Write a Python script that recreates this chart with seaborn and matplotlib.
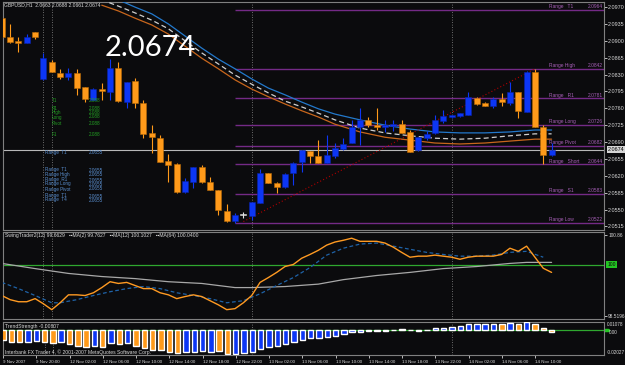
"""
Gráfico H1 de GBPUSD estilo MetaTrader: velas, medias, niveles "Range",
SwingTrader y TrendStrength.
"""
import matplotlib
matplotlib.use("Agg")
import matplotlib.pyplot as plt
import seaborn as sns
import numpy as np

# ---- velas (índice de barra 0..66) ----
opens = [2.0947, 2.0908, 2.0900, 2.0896, 2.0918, 2.0821, 2.0856, 2.0833, 2.0825, 2.0833,
         2.0804, 2.0777, 2.0800, 2.0794, 2.0844, 2.0773, 2.0817, 2.0771, 2.0709, 2.0698,
         2.0651, 2.0644, 2.0586, 2.0607, 2.0638, 2.0607, 2.0591, 2.0547, 2.0526, 2.0539,
         2.0537, 2.0563, 2.0626, 2.0605, 2.0597, 2.0626, 2.0648, 2.0671, 2.0661, 2.0646,
         2.0661, 2.0676, 2.0688, 2.0721, 2.0736, 2.0725, 2.0721, 2.0723, 2.0727, 2.0711,
         2.0674, 2.0698, 2.0709, 2.0734, 2.0742, 2.0744, 2.0746, 2.0781, 2.0771, 2.0765,
         2.0779, 2.0771, 2.0794, 2.0752, 2.0835, 2.0721, 2.0663]
highs = [2.0952, 2.0935, 2.0908, 2.0914, 2.0918, 2.0875, 2.0860, 2.0842, 2.0844, 2.0842,
         2.0804, 2.0802, 2.0813, 2.0862, 2.0856, 2.0815, 2.0823, 2.0777, 2.0725, 2.0705,
         2.0665, 2.0646, 2.0615, 2.0638, 2.0642, 2.0617, 2.0591, 2.0561, 2.0543, 2.0545,
         2.0566, 2.0634, 2.0626, 2.0607, 2.0626, 2.0648, 2.0674, 2.0671, 2.0694, 2.0705,
         2.0688, 2.0698, 2.0736, 2.0761, 2.0742, 2.0761, 2.0736, 2.0736, 2.0736, 2.0715,
         2.0700, 2.0713, 2.0746, 2.0757, 2.0746, 2.0750, 2.0794, 2.0784, 2.0773, 2.0784,
         2.0792, 2.0815, 2.0794, 2.0837, 2.0842, 2.0725, 2.0688]
lows = [2.0906, 2.0895, 2.0877, 2.0895, 2.0904, 2.0819, 2.0835, 2.0821, 2.0819, 2.0788,
        2.0773, 2.0777, 2.0777, 2.0777, 2.0773, 2.0761, 2.0761, 2.0698, 2.0667, 2.0648,
        2.0607, 2.0584, 2.0584, 2.0595, 2.0605, 2.0591, 2.0539, 2.0524, 2.0522, 2.0532,
        2.0528, 2.0563, 2.0605, 2.0584, 2.0595, 2.0601, 2.0628, 2.0646, 2.0646, 2.0646,
        2.0657, 2.0674, 2.0688, 2.0684, 2.0721, 2.0715, 2.0711, 2.0713, 2.0709, 2.0669,
        2.0671, 2.0694, 2.0707, 2.0729, 2.0740, 2.0742, 2.0746, 2.0767, 2.0765, 2.0761,
        2.0765, 2.0767, 2.0740, 2.0752, 2.0721, 2.0644, 2.0661]
closes = [2.0908, 2.0897, 2.0896, 2.0908, 2.0908, 2.0864, 2.0835, 2.0825, 2.0833, 2.0802,
          2.0779, 2.0800, 2.0796, 2.0844, 2.0775, 2.0815, 2.0771, 2.0707, 2.0700, 2.0648,
          2.0642, 2.0586, 2.0609, 2.0638, 2.0607, 2.0591, 2.0549, 2.0526, 2.0539, 2.0539,
          2.0566, 2.0626, 2.0605, 2.0597, 2.0624, 2.0646, 2.0674, 2.0661, 2.0646, 2.0663,
          2.0678, 2.0686, 2.0721, 2.0736, 2.0725, 2.0721, 2.0725, 2.0727, 2.0709, 2.0669,
          2.0700, 2.0707, 2.0736, 2.0744, 2.0746, 2.0750, 2.0784, 2.0769, 2.0765, 2.0779,
          2.0773, 2.0794, 2.0754, 2.0835, 2.0721, 2.0663, 2.0674]

# ---- medias sobre el precio ----
ma_idx = [12, 14, 16, 18, 20, 22, 24, 26, 28, 30, 32, 34, 36, 38, 40,
          43, 46, 49, 52, 55, 58, 61, 64, 66]
ma_azul = [2.1001, 2.0985, 2.0970, 2.0956, 2.0935, 2.0910, 2.0885, 2.0862, 2.0842, 2.0821,
           2.0802, 2.0788, 2.0773, 2.0759, 2.0748, 2.0736, 2.0725, 2.0717, 2.0711, 2.0709,
           2.0709, 2.0711, 2.0715, 2.0715]
ma_blanca = [2.0985, 2.0972, 2.0958, 2.0943, 2.0925, 2.0900, 2.0875, 2.0852, 2.0829, 2.0810,
             2.0792, 2.0775, 2.0763, 2.0750, 2.0736, 2.0719, 2.0709, 2.0703, 2.0698, 2.0696,
             2.0698, 2.0703, 2.0707, 2.0707]
ma_naranja = [2.0974, 2.0962, 2.0947, 2.0933, 2.0914, 2.0889, 2.0864, 2.0842, 2.0819, 2.0800,
              2.0784, 2.0769, 2.0755, 2.0742, 2.0727, 2.0711, 2.0700, 2.0694, 2.0688, 2.0686,
              2.0688, 2.0692, 2.0696, 2.0696]

# línea de tendencia (punteada roja)
tend_idx = [29, 64]
tend_val = [2.0525, 2.0842]

# niveles Range
rango_nombres = ["Range   T1", "Range High", "Range   R1", "Range Long",
                 "Range Pivot", "Range   Short", "Range   S1", "Range Low"]
rango_valores = [2.0964, 2.0842, 2.0781, 2.0726, 2.0682, 2.0644, 2.0583, 2.0522]
rango_inicio = 28
precio_actual = 2.0674

precio_ticks = [2.0970, 2.0935, 2.0900, 2.0865, 2.0830, 2.0795, 2.0760,
                2.0725, 2.0690, 2.0655, 2.0620, 2.0585, 2.0550, 2.0515]

# ---- SwingTrader2 ----
swing = [99.11, 98.99, 98.93, 98.93, 99.02, 98.87, 98.70, 98.90, 99.13, 99.13,
         99.11, 99.19, 99.34, 99.51, 99.46, 99.49, 99.40, 99.31, 99.31, 99.19,
         99.13, 99.02, 99.08, 99.13, 99.08, 98.96, 98.84, 98.70, 98.73, 98.90,
         99.11, 99.49, 99.63, 99.78, 99.95, 100.01, 100.19, 100.30, 100.42, 100.57,
         100.66, 100.71, 100.77, 100.68, 100.68, 100.68, 100.63, 100.51, 100.36, 100.22,
         100.25, 100.25, 100.28, 100.25, 100.22, 100.16, 100.22, 100.25, 100.25, 100.25,
         100.30, 100.48, 100.39, 100.54, 100.22, 99.90, 99.78]
ma12_idx = [0, 2, 4, 6, 7, 9, 11, 13, 15, 17, 19, 21, 23, 25, 27, 29, 31,
            33, 35, 37, 39, 41, 43, 45, 47, 49, 51, 53, 55, 57, 59, 61, 63, 65]
ma12 = [99.49, 99.31, 99.11, 98.90, 98.90, 98.99, 99.11, 99.22, 99.31, 99.37, 99.31,
        99.19, 99.11, 99.02, 98.90, 98.96, 99.16, 99.40, 99.63, 99.92, 100.28, 100.48,
        100.60, 100.63, 100.54, 100.45, 100.36, 100.30, 100.25, 100.25, 100.28, 100.36,
        100.39, 100.22]
ma64_idx = [0, 4, 8, 12, 16, 20, 24, 28, 30, 34, 38, 41, 45, 49, 53, 57, 61, 63, 66]
ma64 = [100.04, 99.89, 99.75, 99.66, 99.60, 99.51, 99.46, 99.34, 99.34, 99.37,
        99.44, 99.57, 99.69, 99.78, 99.89, 99.95, 100.04, 100.07, 100.07]

# ---- TrendStrength ----
fuerza = [-0.0082, -0.0099, -0.0099, -0.0099, -0.0091, -0.0099, -0.0108, -0.0099, -0.0116, -0.0133,
          -0.0142, -0.0133, -0.0142, -0.0108, -0.0116, -0.0108, -0.0133, -0.0150, -0.0167, -0.0167,
          -0.0184, -0.0193, -0.0184, -0.0184, -0.0176, -0.0184, -0.0176, -0.0201, -0.0203, -0.0193,
          -0.0184, -0.0159, -0.0142, -0.0133, -0.0116, -0.0099, -0.0082, -0.0065, -0.0065, -0.0057,
          -0.0048, -0.0031, -0.0014, -0.0012, -0.0008, -0.0006, -0.0004, 0.0003, 0.0008, 0.0003,
          -0.0002, 0.0005, 0.0020, 0.0022, 0.0028, 0.0037, 0.0054, 0.0054, 0.0054, 0.0054,
          0.0056, 0.0060, 0.0054, 0.0068, 0.0054, 0.0020, -0.0010]
fuerza_col = list("ooobbooboooboboboooooobbbboobbbbbbbbbbbbbbbbbbbboobbbbbbbbbbobobooo")

# ---- eje de fechas ----
fecha_idx = [0, 4, 8, 12, 16, 20, 24, 28, 32, 36, 40, 44, 48, 52, 56, 60, 64]
fecha_txt = ["9 Nov 2007", "9 Nov 20:00", "12 Nov 02:00", "12 Nov 06:00", "12 Nov 10:00",
             "12 Nov 14:00", "12 Nov 18:00", "12 Nov 22:00", "13 Nov 02:00", "13 Nov 06:00",
             "13 Nov 10:00", "13 Nov 14:00", "13 Nov 18:00", "13 Nov 22:00", "14 Nov 02:00",
             "14 Nov 06:00", "14 Nov 10:00"]
separadores = [5, 6, 30, 54]

FONDO = "#0b0b0d"
NARANJA = "#ff9a1a"
AZUL = "#0c36f5"
GRIS = "#808080"
MORADO = "#742a86"
VERDE = "#2fa82f"
TEXTO = "#d8d8d8"

sns.set_style("dark", {"axes.facecolor": FONDO, "figure.facecolor": FONDO})
plt.rcParams["font.family"] = ["Liberation Sans", "DejaVu Sans"]

W, H = 625, 365
X0, DX = 1.8, 8.33  # píxel del centro de la barra 0 y paso entre barras


def caja(x1, y1, x2, y2):
    return [x1 / W, 1 - y2 / H, (x2 - x1) / W, (y2 - y1) / H]


def barra(px):
    return (px - X0) / DX


fig = plt.figure(figsize=(6.25, 3.65), dpi=100, facecolor=FONDO)
ax = fig.add_axes(caja(3, 2, 604, 230))
ax1 = fig.add_axes(caja(3, 232, 604, 319))
ax2 = fig.add_axes(caja(3, 322, 604, 355))

for a in (ax, ax1, ax2):
    a.set_facecolor(FONDO)
    a.set_xlim(barra(3), barra(604))
    for s in a.spines.values():
        s.set_color(GRIS)
        s.set_linewidth(0.8)
    a.yaxis.tick_right()
    a.tick_params(axis="y", colors=TEXTO, labelsize=3.9, length=2, width=0.6, pad=1)
    a.tick_params(axis="x", bottom=False, labelbottom=False)
    a.grid(False)
    for s in separadores:
        a.axvline(s, color="#8c8c8c", lw=0.6, ls=(0, (1, 2)), zorder=1)

# ---- panel principal ----
ax.set_ylim(2.05075, 2.09806)
ax.set_yticks(precio_ticks)
ax.set_yticklabels([f"{v:.4f}" for v in precio_ticks])

for nombre, val in zip(rango_nombres, rango_valores):
    ax.hlines(val, rango_inicio, barra(604), color=MORADO, lw=1.0, zorder=2)
    ax.text(barra(549), val + 0.00012, nombre, color="#a860b8", fontsize=3.5, va="bottom")
    ax.text(barra(588), val + 0.00012, f"{val:.4f}", color="#a860b8", fontsize=3.5, va="bottom")

ax.axhline(precio_actual, color="#b8b8b8", lw=0.8, zorder=2)

sns.lineplot(x=ma_idx, y=ma_azul, ax=ax, color="#2379cc", lw=0.9, sort=False, estimator=None, zorder=3)
sns.lineplot(x=ma_idx, y=ma_blanca, ax=ax, color="#cfcfcf", lw=0.9, ls=(0, (4, 2.5)),
             sort=False, estimator=None, zorder=3)
sns.lineplot(x=ma_idx, y=ma_naranja, ax=ax, color="#c8661c", lw=0.9, sort=False, estimator=None, zorder=3)
sns.lineplot(x=tend_idx, y=tend_val, ax=ax, color="#b00000", lw=0.8, ls=(0, (1, 2)),
             sort=False, estimator=None, zorder=3)

idx = np.arange(len(opens))
o, h, l, c = map(np.array, (opens, highs, lows, closes))
colores = np.where(c > o, AZUL, np.where(c < o, NARANJA, "#e0e0e0"))
ax.vlines(idx, l, h, colors=colores, lw=0.8, zorder=4)
cuerpo = np.maximum(np.abs(c - o), 0.00008)
bordes = np.where(c > o, "#0a22a8", np.where(c < o, "#b86a08", "#e0e0e0"))
ax.bar(idx, cuerpo, bottom=np.minimum(o, c), width=0.72, color=colores,
       edgecolor=bordes, linewidth=0.4, zorder=5)

ax.annotate(f"{precio_actual:.4f}", xy=(1.0, precio_actual), xycoords=("axes fraction", "data"),
            xytext=(2.5, 0), textcoords="offset points", va="center", ha="left",
            fontsize=3.9, color="#000000",
            bbox=dict(boxstyle="square,pad=0.15", fc="#d6d6d6", ec="none"))

fig.text(4 / W, 1 - 5 / H, "GBPUSD,H1  2.0663 2.0688 2.0661 2.0674", color=TEXTO,
         fontsize=3.6, va="center")
fig.text(105 / W, 1 - 48 / H, "2.0674", color="white", fontsize=21, va="center",
         family=["Lato", "DejaVu Sans"])

# bloque de etiquetas superpuestas del indicador Range
verde_txt = ["T1", "R1", "High", "Long", "Pivot", "F1"]
verde_y = [101, 108, 113, 117, 124, 134]
for t, y in zip(verde_txt, verde_y):
    fig.text(52 / W, 1 - y / H, t, color="#23a023", fontsize=3.3, va="center")
    fig.text(89 / W, 1 - y / H, "2.0" + "8" * 2, color="#23a023", fontsize=3.3, va="center")
azul_txt = ["Range  T1", "Range  T1", "Range High", "Range  R1", "Range Long", "Range Pivot",
            "Range  T1", "Range  T4"]
azul_y = [152, 170, 175, 180, 184, 189, 196, 200]
for t, y in zip(azul_txt, azul_y):
    fig.text(45 / W, 1 - y / H, t, color="#5a8fd0", fontsize=3.3, va="center")
    fig.text(89 / W, 1 - y / H, "2.06" + "5" * 2, color="#5a8fd0", fontsize=3.3, va="center")

# ---- SwingTrader ----
ax1.set_ylim(98.43, 100.95)
ax1.set_yticks([100.86, 98.52])
ax1.set_yticklabels(["100.86", "98.5196"])
ax1.tick_params(axis="y", labelsize=3.4)
ax1.axhline(100, color=VERDE, lw=0.9, zorder=2)
sns.lineplot(x=ma64_idx, y=ma64, ax=ax1, color="#a8a8a8", lw=0.9, sort=False, estimator=None, zorder=3)
sns.lineplot(x=ma12_idx, y=ma12, ax=ax1, color="#1f63a8", lw=0.9, ls=(0, (3, 2)),
             sort=False, estimator=None, zorder=3)
sns.lineplot(x=idx, y=swing, ax=ax1, color="#ff9a22", lw=1.0, sort=False, estimator=None, zorder=4)
ax1.annotate("100", xy=(1.0, 100), xycoords=("axes fraction", "data"), xytext=(2.5, 0),
             textcoords="offset points", va="center", ha="left", fontsize=3.6, color="#0a0a0a",
             bbox=dict(boxstyle="square,pad=0.2", fc="#22c422", ec="none"))
ax1.text(0.003, 0.955, "SwingTrader2(12) 99.6629   \u25aa\u25aaMA(2) 99.7627   \u25aa\u25aaMA(12) 100.1027"
         "   \u25aa\u25aaMA(64) 100.0400", transform=ax1.transAxes, color=TEXTO, fontsize=3.6,
         va="center")

# ---- TrendStrength ----
ax2.set_ylim(-0.0210, 0.0071)
ax2.set_yticks([])
ax2.axhline(0, color=VERDE, lw=0.9, zorder=2)
ax2.bar(idx, fuerza, width=0.65, color=[NARANJA if k == "o" else AZUL for k in fuerza_col], zorder=3)
ax2.text(1.005, 0.93, "0.01078", transform=ax2.transAxes, color=TEXTO, fontsize=3.3, va="center")
ax2.text(1.005, 0.08, "-0.02027", transform=ax2.transAxes, color=TEXTO, fontsize=3.3, va="center")
ax2.annotate("0.00", xy=(1.0, 0), xycoords=("axes fraction", "data"), xytext=(3.5, -1.2),
             textcoords="offset points", va="center", ha="left", fontsize=3.3, color=TEXTO)
ax2.plot([1.002, 1.007], [0, 0], transform=ax2.get_yaxis_transform(), color="#22c422",
         lw=2.5, clip_on=False)
ax2.text(0.003, 0.86, "TrendStrength -0.00807", transform=ax2.transAxes, color=TEXTO,
         fontsize=3.6, va="center")
ax2.text(0.003, 0.10, "Interbank FX Trader 4, \u00a9 2001-2007 MetaQuotes Software Corp.",
         transform=ax2.transAxes, color=TEXTO, fontsize=3.6, va="center")

ax2.set_xticks(fecha_idx)
ax2.set_xticklabels(fecha_txt)
ax2.tick_params(axis="x", bottom=True, labelbottom=True, colors=TEXTO, labelsize=3.2,
                length=2, width=0.6, pad=1.5)
for et in ax2.get_xticklabels():
    et.set_ha("left")

fig.savefig("out.png", dpi=100, facecolor=FONDO)
